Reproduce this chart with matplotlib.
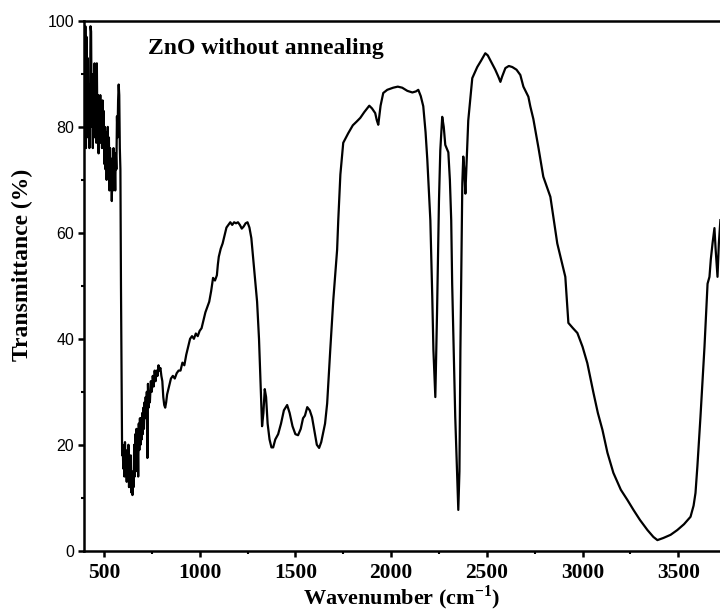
import matplotlib.pyplot as plt
from matplotlib.ticker import MultipleLocator

# FTIR spectrum, ZnO without annealing
wavenumber = [
    400, 403, 406, 409, 412, 415, 418, 421, 424, 427, 430, 433, 436, 439, 442,
    445, 448, 451, 454, 457, 460, 463, 466, 469, 472, 475, 478, 481, 484, 487,
    490, 493, 496, 499, 502, 505, 508, 511, 514, 517, 520, 523, 526, 529, 532,
    535, 538, 541, 544, 547, 550, 553, 556, 559, 562, 565, 568, 571, 574, 577,
    580, 583, 586, 589, 592, 595, 598,
    601, 604, 607, 610, 613, 616, 619, 622, 625, 628, 631, 634, 637, 640, 643,
    646, 649, 652, 655, 658, 661, 664, 667, 670, 673, 676, 679, 682, 685, 688,
    691, 694, 697, 700, 703, 706, 709, 712, 715, 718, 721, 724, 727, 730, 733,
    736, 740, 745, 750, 755, 760, 765, 770, 775, 780, 785, 790, 795, 800, 805,
    810, 815, 820, 825, 830, 840, 850, 860, 870, 880, 890, 900, 910, 920, 930,
    940, 950, 960, 970, 980, 990, 1000, 1010, 1020, 1030, 1040, 1050, 1060,
    1070, 1080, 1090, 1095, 1100, 1110, 1120, 1130, 1140, 1150, 1160, 1170,
    1180, 1190, 1200, 1210, 1220, 1230, 1240, 1250, 1260, 1270, 1280, 1290,
    1300, 1310, 1320, 1326, 1333, 1340, 1347, 1355, 1365, 1375, 1384, 1395,
    1410, 1425, 1440, 1457, 1470, 1485, 1500, 1514, 1528, 1540, 1550, 1562,
    1575, 1587, 1600, 1612, 1624, 1635, 1645, 1655, 1666, 1682, 1698, 1718,
    1724, 1735, 1750, 1776, 1800, 1820, 1839, 1860, 1875, 1886, 1900, 1917,
    1925, 1933, 1945, 1959, 1980, 2011, 2035, 2058, 2085, 2111, 2130, 2142,
    2155, 2168, 2180, 2189, 2205, 2215, 2221, 2231, 2240, 2250, 2257, 2267,
    2275, 2283, 2299, 2307, 2314, 2319, 2335, 2351, 2357, 2362, 2372, 2377,
    2382, 2388, 2395, 2403, 2424, 2450, 2470, 2492, 2505, 2518, 2544, 2560,
    2571, 2580, 2597, 2615, 2633, 2655, 2675, 2691, 2717, 2727, 2743, 2770,
    2795, 2832, 2868, 2910, 2926, 2950, 2973, 3000, 3025, 3057, 3080, 3104,
    3130, 3161, 3200, 3234, 3266, 3300, 3339, 3370, 3391, 3422, 3460, 3495,
    3530, 3564, 3580, 3590, 3600, 3616, 3637, 3653, 3663, 3670, 3679, 3689,
    3695, 3700, 3705, 3712, 3720,
]
transmittance = [
    80, 99, 76, 97, 84, 93, 78, 88, 76, 83, 99, 98, 80, 86, 76,
    90, 80, 92, 78, 85, 77, 92, 79, 86, 75, 83, 80, 86, 77, 84,
    76, 85, 78, 83, 73, 80, 72, 79, 70, 77, 80, 72, 78, 68, 76,
    70, 74, 66, 72, 68, 76, 70, 73, 68, 75, 72, 82, 78, 85, 88,
    86, 76, 72, 50, 35, 18, 20,
    15.5, 19, 14, 20.5, 16, 18, 13, 19, 14, 20, 12, 17, 13, 18, 11,
    15, 10.5, 14, 12, 20, 14, 22, 15, 23, 16, 21, 14, 24, 19, 25,
    20, 25, 21, 26, 22, 27, 23, 28, 25, 29, 26, 30, 17.5, 31.5, 27,
    30, 28, 32, 30, 33, 31, 34, 32, 34, 33, 35, 34, 34.5, 33, 32,
    29, 27.5, 27, 28, 29.5, 31, 32.5, 33, 32.5, 33.5, 34, 34, 35.5, 35, 37,
    38.5, 40, 40.5, 40, 41, 40.5, 41.5, 42, 43.5, 45, 46, 47, 49,
    51.5, 51, 52, 54, 55.5, 57, 58, 59.5, 61, 61.5, 62, 61.5,
    62, 61.8, 62, 61.5, 60.8, 61.2, 61.8, 62, 61, 59, 55, 51,
    47, 40, 30, 23.5, 26, 30.5, 29, 24, 21, 19.5, 19.5, 21,
    22, 24, 26.5, 27.5, 26, 23.5, 22, 21.8, 23, 25, 25.5, 27.1,
    26.5, 25.2, 22.5, 20, 19.4, 20.5, 22.2, 24, 27.8, 37.8, 47.3, 56.8,
    62.4, 71, 77, 78.8, 80.3, 81, 81.7, 82.8, 83.5, 84, 83.5, 82.6,
    81.3, 80.4, 84, 86.4, 87, 87.4, 87.6, 87.4, 86.8, 86.5, 86.7, 87,
    85.8, 83.9, 79, 73.9, 62.4, 48, 37.9, 29, 45, 66, 75.6, 81.9,
    80, 76.6, 75.2, 70, 62.4, 50.4, 25.3, 7.7, 15, 37.9, 69.4, 74.4,
    72, 67.4, 74, 81.2, 89.2, 91.3, 92.5, 93.9, 93.5, 92.6, 90.8, 89.5,
    88.5, 89.5, 91.1, 91.5, 91.3, 90.8, 89.8, 87.6, 85.7, 83.9, 81.5, 76,
    70.6, 66.8, 58, 51.7, 43, 42, 41.1, 38.5, 35.4, 29.8, 26, 22.8,
    18.5, 14.7, 11.5, 9.6, 7.7, 5.8, 3.9, 2.6, 2, 2.4, 3, 3.9,
    5, 6.4, 8.5, 10.9, 16, 25.3, 38.5, 50.4, 51.7, 55, 58, 60.9,
    57, 54.3, 51.7, 58, 62.4,
]

serif = 'Liberation Serif'
sans = 'Liberation Sans'

plt.rcParams['mathtext.fontset'] = 'custom'
plt.rcParams['mathtext.rm'] = serif
plt.rcParams['mathtext.bf'] = serif + ':bold'

fig = plt.figure(figsize=(7.2, 6.16), dpi=100)
ax = fig.add_axes([0.1167, 0.106, 0.8833, 0.860])

ax.plot(wavenumber, transmittance, color='black', linewidth=1.6)

ax.set_xlim(396, 3718)
ax.set_ylim(0, 100)

ax.xaxis.set_major_locator(MultipleLocator(500))
ax.xaxis.set_minor_locator(MultipleLocator(250))
ax.yaxis.set_major_locator(MultipleLocator(20))
ax.yaxis.set_minor_locator(MultipleLocator(10))

for side in ['left', 'bottom', 'top']:
    ax.spines[side].set_linewidth(1.8)
ax.spines['right'].set_visible(False)

ax.tick_params(which='major', direction='out', length=4, width=1.8)
ax.tick_params(which='minor', direction='out', length=2.5, width=1.5)
ax.tick_params(axis='x', which='major', pad=5)
ax.tick_params(axis='y', which='major', pad=3)

for lab in ax.get_xticklabels():
    lab.set_fontfamily(serif)
    lab.set_fontweight('bold')
    lab.set_fontsize(15.5)
for lab in ax.get_yticklabels():
    lab.set_fontfamily(sans)
    lab.set_fontsize(11.5)

ax.set_xlabel(r'Wavenumber (cm$^{\mathbf{-1}}$)', fontfamily=serif,
              fontweight='bold', fontsize=16, labelpad=0)
ax.set_ylabel('Transmittance (%)', fontfamily=serif, fontweight='bold',
              fontsize=17)
ax.yaxis.set_label_coords(-0.080, 0.539)

ax.text(730, 94.8, 'ZnO without annealing', fontfamily=serif,
        fontweight='bold', fontsize=17, va='center', ha='left')

fig.savefig('out.png', dpi=100)
